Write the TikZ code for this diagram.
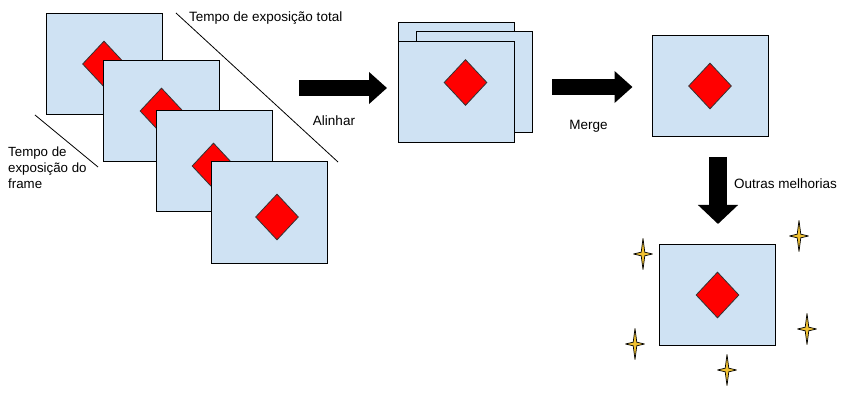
\documentclass[tikz,border=0pt]{standalone}
\usepackage{fontspec}
\setmainfont{Liberation Sans}
\usetikzlibrary{shapes.geometric,arrows.meta}
\definecolor{frameblue}{HTML}{CFE2F3}
\definecolor{stargold}{HTML}{F1C232}

\begin{document}
\begin{tikzpicture}[
      x=1pt, y=-1pt,
      frame/.style={draw, fill=frameblue, line width=1pt, minimum width=116pt, minimum height=101pt, inner sep=0pt},
      target/.style={diamond, draw=black!80, fill=red, line width=0.8pt, minimum width=43pt, minimum height=46pt, inner sep=0pt},
      label/.style={font=\fontsize{13.5}{16}\selectfont, inner sep=0pt},
      bigarrow/.style={line width=16pt, -{Triangle[length=18pt, width=31pt]}},
      sparkle/.pic={
        \draw[fill=stargold, line width=0.7pt, line join=round]
          (0,-15.5) -- (1.8,-1.8) -- (9.5,0) -- (1.8,1.8) -- (0,15.5) -- (-1.8,1.8) -- (-9.5,0) -- (-1.8,-1.8) -- cycle;
      }
    ]
      \useasboundingbox (0,0) rectangle (855,401);
      % frames taken one by one
      \draw[line width=0.8pt] (176,13) -- (338,162);
      \draw[line width=0.8pt] (35,115) -- (98,167);
      \node[frame] (shotA) at (104,64) {};
      \node[target] (targetA) at (shotA.center) {};
      \node[frame] (shotB) at (161.5,111) {};
      \node[target] (targetB) at (shotB.center) {};
      \node[frame] (shotC) at (214,161.5) {};
      \node[target] (targetC) at (213.5,166) {};
      \node[frame] (shotD) at (269.5,212.5) {};
      \node[target] (targetD) at (277,217) {};
      \node[label, anchor=west] (totalTime) at (189,18) {Tempo de exposição total};
      \node[label, anchor=west, align=left, font=\fontsize{13.3}{16}\selectfont] (frameTime) at (8,168) {Tempo de \\ exposição do \\ frame};
      % aligned stack
      \node[frame] (alignedA) at (456.5,73) {};
      \node[frame] (alignedB) at (474,82) {};
      \node[frame] (alignedC) at (456.5,92) {};
      \node[target] (targetE) at (465.5,82.5) {};
      % merged and improved
      \node[frame] (merged) at (710,86) {};
      \node[target] (targetF) at (merged.center) {};
      \node[frame] (improved) at (717.5,295) {};
      \node[target] (targetG) at (improved.center) {};
      \foreach \sx/\sy in {643/254, 799/236, 635/344, 807/329, 727/370}
        \pic at (\sx,\sy) {sparkle};
      % big arrows
      \coordinate (alignStart) at (299,88);
      \coordinate (mergeStart) at (552,87);
      \coordinate (improveStart) at (718,157);
      \draw[bigarrow, shorten >=11pt] (alignStart) -- (alignedC.west |- alignStart);
      \draw[bigarrow, shorten >=19pt] (mergeStart) -- (merged.west |- mergeStart);
      \draw[bigarrow, line width=18pt, -{Triangle[length=19pt, width=39pt]}, shorten >=20pt] (improveStart) -- (improveStart |- improved.north);
      \node[label] (alignText) at (334,121) {Alinhar};
      \node[label] (mergeText) at (588.5,126) {Merge};
      \node[label, anchor=west] (improveText) at (734,184) {Outras melhorias};
    \end{tikzpicture}
\end{document}
